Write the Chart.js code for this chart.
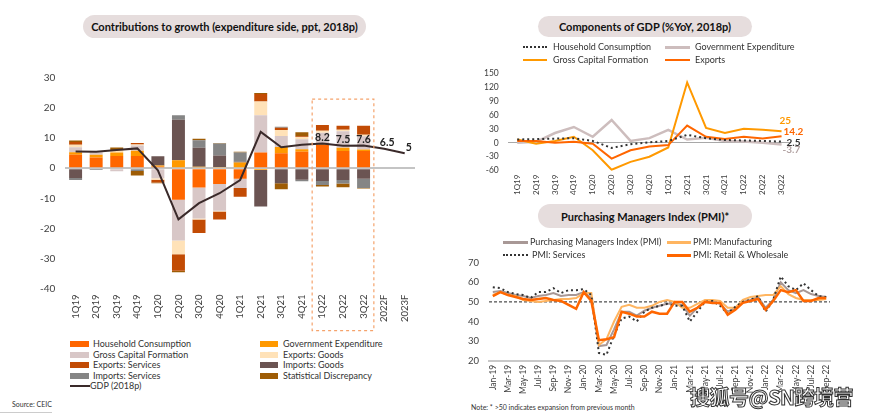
<!DOCTYPE html>
<html>
<head>
<meta charset="utf-8">
<script src="https://cdn.jsdelivr.net/npm/chart.js@4.4.1/dist/chart.umd.min.js"></script>
<style>
body{margin:0;width:870px;height:415px;background:#fff;position:relative;overflow:hidden;font-family:Lato,"Open Sans",sans-serif;color:#222}
.pill{position:absolute;background:#e6dddd;border-radius:12px;font-weight:bold;font-size:11px;display:flex;align-items:center;justify-content:center;color:#111}
canvas{position:absolute}
.lg{position:absolute;font-size:9px;color:#333;white-space:nowrap;line-height:11px}
.sw{position:absolute}
.note{position:absolute;font-size:7px;color:#333}
.wm{position:absolute;left:690px;top:382px;font-family:"Noto Sans CJK SC",sans-serif;font-weight:bold;font-size:20px;color:#fff;-webkit-text-stroke:1px #333;letter-spacing:-0.5px}
</style>
</head>
<body>
<div class="pill" style="left:83px;top:15px;width:283px;height:23px">Contributions to growth (expenditure side, ppt, 2018p)</div>
<div class="pill" style="left:538px;top:16px;width:214px;height:21px">Components of GDP (%YoY, 2018p)</div>
<div class="pill" style="left:538px;top:204px;width:214px;height:24px">Purchasing Managers Index (PMI)*</div>

<canvas id="contrib" width="430" height="275" style="left:0;top:62px"></canvas>
<canvas id="gdpComp" width="420" height="140" style="left:440px;top:59px"></canvas>
<canvas id="pmi" width="420" height="151" style="left:440px;top:247px"></canvas>

<div id="legends"></div>
<div class="note" style="left:12px;top:400px">Source: CEIC</div>
<div style="position:absolute;left:0;top:412px;width:52px;height:1px;background:#ccc"></div>
<div class="note" style="left:471px;top:403px">Note: * &gt;50 indicates expansion from previous month</div>
<div class="wm">搜狐号@SN跨境营销</div>

<script>
// ---- contributions to growth (ppt) ----
const quarters = ['1Q19','2Q19','3Q19','4Q19','1Q20','2Q20','3Q20','4Q20','1Q21','2Q21','3Q21','4Q21','1Q22','2Q22','3Q22','2022F','2023F'];
const household   = [4.5, 3.6, 4.1, 4.1, 0.5, -10.5, -6.4, -5.2, -3.5, 5.2, 5.0, 5.5, 7.8, 5.7, 5.7, null, null];
const govExp      = [0.8, 0.9, 1.1, 1.7, 0.4, 2.7, 0.5, 0.4, 1.9, -0.6, 2.1, 0.8, 0.4, 1.1, 0.5, null, null];
const grossCap    = [1.7, 0.8, -1.0, 1.8, -3.3, -13.5, -10.3, -8.9, -3.1, 12.4, 3.6, 3.3, 3.6, 5.5, 4.4, null, null];
const expGoods    = [0.8, 0.3, 0.8, 0.3, -0.5, -4.6, -0.3, -0.3, 0, 4.6, 2.0, 0.8, 0.7, 0.5, 0.5, null, null];
const expServices = [0.9, 0, 0.1, 0.5, -0.9, -5.5, -4.5, -2.6, -2.9, 2.5, 0.8, 0.2, 1.9, 1.3, 3.0, null, null];
const impGoods    = [-3.2, 0, 0, 0, 3.1, 13.4, 6.3, 3.8, 0.3, -12.1, -5.0, -3.8, -4.2, -3.9, -3.5, null, null];
const impServices = [-0.7, -0.6, 0, -0.9, 0, 1.5, 2.5, 4.0, 3.0, 0, 0.3, -0.5, -1.4, -1.2, -3.1, null, null];
const statDisc    = [0.5, 0.1, 0.8, -1.5, -0.3, -0.5, 0.5, 0.2, 0.3, 0.3, -2.0, 1.4, -0.5, -1.2, -0.1, null, null];
const gdp         = [5.6, 5.5, 6.1, 6.6, -0.7, -17.0, -11.6, -8.3, -3.9, 12.1, 7.0, 7.8, 8.2, 7.5, 7.6, 6.5, 5];
const gdpLabelled = ['1Q22','2Q22','3Q22','2022F','2023F'];

// ---- components of GDP (%YoY) ----
const compQuarters = quarters.slice(0, 15);
const hhYoY  = [7, 8, 9, 10, 4, -11, -3, 1, 4, 17, 10, 6, 5, 4, 2.5];
const govYoY = [0, 2, 21, 34, 13, 49, 4, 10, 28, 7, 11, 4, 3, 0, -3.7];
const gcfYoY = [7, -2, 4, 13, -16, -58, -41, -30, -10, 130, 32, 21, 30, 28, 25];
const expYoY = [4, 4, 0, 2, -2, -34, -16, -8, -5, 37, 13, 8, 13, 9, 14.2];

// ---- PMI ----
const months = ['Jan-19','Feb-19','Mar-19','Apr-19','May-19','Jun-19','Jul-19','Aug-19','Sep-19','Oct-19','Nov-19','Dec-19',
  'Jan-20','Feb-20','Mar-20','Apr-20','May-20','Jun-20','Jul-20','Aug-20','Sep-20','Oct-20','Nov-20','Dec-20',
  'Jan-21','Feb-21','Mar-21','Apr-21','May-21','Jun-21','Jul-21','Aug-21','Sep-21','Oct-21','Nov-21','Dec-21',
  'Jan-22','Feb-22','Mar-22','Apr-22','May-22','Jun-22','Jul-22','Aug-22','Sep-22'];
const pmiAll = [55, 55.5, 54.5, 53.5, 53, 52, 53, 53.5, 54.5, 53, 53.5, 53.5,
  55, 52, 27.5, 28, 36, 45, 45, 43, 45.5, 47, 48, 49,
  49, 48.5, 43, 47, 50, 50.5, 49, 45, 47, 50, 51, 52.5,
  47, 51, 60, 56, 54.5, 56, 54, 53, 52.5];
const pmiManuf = [53.5, 55, 53.5, 53, 51, 50.5, 50, 50.5, 51, 51.5, 51.5, 52,
  54.5, 54.5, 28, 31, 40, 47.5, 48.5, 47, 47, 48, 50, 51,
  50, 47, 47, 49, 51, 51, 50.5, 47, 47, 51, 52.5, 53,
  53.5, 53.5, 58, 54, 52, 51, 51, 51, 51.5];
const pmiServ = [57.5, 57, 55, 54, 53.5, 52, 55, 55, 57, 54.5, 56, 56,
  56.5, 53.5, 24, 23, 33, 41.5, 42.5, 40, 45, 47, 48, 49,
  48, 48, 40, 45, 50, 50.5, 48, 44, 47.5, 50, 51, 53,
  45, 51, 63, 58, 56, 59.5, 56, 53, 52.5];
const pmiRetail = [53, 55, 53.5, 52.5, 51.5, 51, 51.5, 52, 51, 50.5, 48.5, 46.5,
  55, 50.5, 30.5, 31, 32, 45, 44, 42.5, 42.5, 45, 44, 44,
  50, 50, 45, 47, 50, 49.5, 49.5, 43.5, 46, 49.5, 50.5, 51.5,
  46, 50.5, 56, 55, 56, 50.5, 50.5, 52, 52];
const pmiThreshold = 50;

Chart.defaults.font.family = 'Lato, "Open Sans", sans-serif';
Chart.defaults.color = '#404040';
Chart.defaults.animation = false;

const C = {
  household: '#ff6600', gov: '#ff9900', gcf: '#d8c7c7', expG: '#ffe2b8', expS: '#c24b04',
  impG: '#6b5452', impS: '#858585', stat: '#9e5c05', gdp: '#3a2a2a',
  hhLine: '#333333', govLine: '#cdbdbd', pmi: '#a89896', manuf: '#ffb560'
};

// ---------- legends ----------
function legend(items) {
  const root = document.getElementById('legends');
  items.forEach(it => {
    const sw = document.createElement('div');
    sw.className = 'sw';
    sw.style.left = it.x + 'px';
    sw.style.width = it.w + 'px';
    if (it.kind === 'box') {
      sw.style.top = (it.y - 3) + 'px'; sw.style.height = '6px'; sw.style.background = it.color;
    } else if (it.kind === 'dot') {
      sw.style.top = (it.y - 1) + 'px'; sw.style.height = '0'; sw.style.borderTop = '2px dotted ' + it.color;
    } else {
      sw.style.top = (it.y - 1) + 'px'; sw.style.height = (it.lw || 2) + 'px'; sw.style.background = it.color;
    }
    root.appendChild(sw);
    const t = document.createElement('div');
    t.className = 'lg';
    t.style.left = (it.x + it.w + it.gap) + 'px';
    t.style.top = (it.y - 6) + 'px';
    t.textContent = it.text;
    root.appendChild(t);
  });
}
legend([
  {x:70, y:344, w:19, gap:4, kind:'box', color:C.household, text:'Household Consumption'},
  {x:260, y:344, w:18, gap:5, kind:'box', color:C.gov, text:'Government Expenditure'},
  {x:70, y:354.5, w:19, gap:4, kind:'box', color:C.gcf, text:'Gross Capital Formation'},
  {x:260, y:354.5, w:18, gap:5, kind:'box', color:C.expG, text:'Exports: Goods'},
  {x:70, y:365, w:19, gap:4, kind:'box', color:C.expS, text:'Exports: Services'},
  {x:260, y:365, w:18, gap:5, kind:'box', color:C.impG, text:'Imports: Goods'},
  {x:70, y:375.5, w:19, gap:4, kind:'box', color:C.impS, text:'Imports: Services'},
  {x:260, y:375.5, w:18, gap:5, kind:'box', color:C.stat, text:'Statistical Discrepancy'},
  {x:70, y:386, w:20, gap:0, kind:'line', color:C.gdp, text:'GDP (2018p)'},
  {x:523, y:46.5, w:24, gap:6, kind:'dot', color:C.hhLine, text:'Household Consumption'},
  {x:665, y:46.5, w:25, gap:5, kind:'line', lw:3, color:C.govLine, text:'Government Expenditure'},
  {x:523, y:59.5, w:24, gap:6, kind:'line', color:C.gov, text:'Gross Capital Formation'},
  {x:665, y:59.5, w:25, gap:5, kind:'line', color:C.household, text:'Exports'},
  {x:503, y:242, w:25, gap:2, kind:'line', lw:3, color:C.pmi, text:'Purchasing Managers Index (PMI)'},
  {x:667, y:242, w:24, gap:2, kind:'line', lw:3, color:C.manuf, text:'PMI: Manufacturing'},
  {x:503, y:255, w:25, gap:4, kind:'dot', color:C.hhLine, text:'PMI: Services'},
  {x:667, y:255, w:24, gap:2, kind:'line', lw:3, color:C.household, text:'PMI: Retail & Wholesale'}
]);

// ---------- chart 1: contributions ----------
const boxPlugin = {
  id: 'boxPlugin',
  afterDraw(chart) {
    const {ctx, scales: {x, y}} = chart;
    const i0 = quarters.indexOf('1Q22'), i1 = quarters.indexOf('3Q22');
    const left = (x.getPixelForValue(i0 - 1) + x.getPixelForValue(i0)) / 2;
    const right = (x.getPixelForValue(i1) + x.getPixelForValue(i1 + 1)) / 2;
    const top = y.getPixelForValue(23);
    const bottom = chart.chartArea.bottom + 42;
    ctx.save();
    ctx.setLineDash([3, 3]);
    ctx.strokeStyle = '#f5a36c';
    ctx.lineWidth = 1.2;
    ctx.strokeRect(left, top, right - left, bottom - top);
    ctx.setLineDash([]);
    const meta = chart.getDatasetMeta(chart.data.datasets.findIndex(d => d.type === 'line'));
    ctx.font = 'bold 10.5px Lato, sans-serif';
    ctx.fillStyle = '#222';
    ctx.textAlign = 'center';
    ctx.textBaseline = 'middle';
    const dxs = [0, 0, 0, 3, 4];
    gdpLabelled.forEach((q, k) => {
      const i = quarters.indexOf(q);
      const p = meta.data[i];
      ctx.fillText(String(gdp[i]), p.x + dxs[k], p.y - 6);
    });
    ctx.restore();
  }
};

function barSet(label, data, color) {
  return {type: 'bar', label, data, backgroundColor: color, order: 1, barPercentage: 0.63, categoryPercentage: 1, stack: 'c'};
}
new Chart(document.getElementById('contrib'), {
  data: {
    labels: quarters,
    datasets: [
      {type: 'line', label: 'GDP (2018p)', data: gdp, borderColor: C.gdp, borderWidth: 2, pointRadius: 0, order: 0, stack: 'gdp', tension: 0},
      barSet('Household Consumption', household, C.household),
      barSet('Government Expenditure', govExp, C.gov),
      barSet('Gross Capital Formation', grossCap, C.gcf),
      barSet('Exports: Goods', expGoods, C.expG),
      barSet('Exports: Services', expServices, C.expS),
      barSet('Imports: Goods', impGoods, C.impG),
      barSet('Imports: Services', impServices, C.impS),
      barSet('Statistical Discrepancy', statDisc, C.stat)
    ]
  },
  options: {
    responsive: false,
    layout: {padding: {left: 30, right: 15, top: 4, bottom: 9}},
    plugins: {legend: {display: false}, tooltip: {enabled: false}},
    scales: {
      x: {stacked: true, grid: {display: false, drawTicks: false}, border: {display: false},
          ticks: {maxRotation: 90, minRotation: 90, font: {size: 9.5}, padding: 6}},
      y: {stacked: true, min: -40, max: 30, border: {display: false},
          ticks: {stepSize: 10, font: {size: 10}, padding: 10, autoSkip: false},
          grid: {drawTicks: false, color: c => c.tick.value === 0 ? '#c4c4c4' : 'transparent', lineWidth: 2}}
    }
  },
  plugins: [boxPlugin]
});

// ---------- chart 2: components of GDP ----------
const endLabels = {
  id: 'endLabels',
  afterDatasetsDraw(chart) {
    const {ctx} = chart;
    ctx.save();
    ctx.font = 'bold 10px Lato, sans-serif';
    ctx.textBaseline = 'middle';
    ctx.textAlign = 'left';
    chart.data.datasets.forEach((ds, i) => {
      const pts = chart.getDatasetMeta(i).data;
      const p = pts[pts.length - 1];
      ctx.fillStyle = ds.endColor;
      ctx.fillText(String(ds.data[ds.data.length - 1]), p.x + ds.endDx, p.y + ds.endDy);
    });
    ctx.restore();
  }
};
new Chart(document.getElementById('gdpComp'), {
  type: 'line',
  data: {
    labels: compQuarters,
    datasets: [
      {label: 'Household Consumption', data: hhYoY, borderColor: C.hhLine, borderWidth: 2, borderDash: [2, 3], order: 0, endColor: '#333', endDx: 5, endDy: 1},
      {label: 'Government Expenditure', data: govYoY, borderColor: C.govLine, borderWidth: 2.5, order: 3, endColor: '#b3a3a3', endDx: 1, endDy: 5.5},
      {label: 'Gross Capital Formation', data: gcfYoY, borderColor: C.gov, borderWidth: 2, order: 2, endColor: C.gov, endDx: -2, endDy: -10},
      {label: 'Exports', data: expYoY, borderColor: C.household, borderWidth: 2, order: 1, endColor: C.household, endDx: 2, endDy: -4}
    ]
  },
  options: {
    responsive: false,
    elements: {point: {radius: 0}, line: {tension: 0}},
    layout: {padding: {left: 35, right: 69, top: 4, bottom: 0}},
    plugins: {legend: {display: false}, tooltip: {enabled: false}},
    scales: {
      x: {offset: true, grid: {display: false, drawTicks: false}, border: {display: false},
          ticks: {maxRotation: 90, minRotation: 90, font: {size: 8}, padding: 4}},
      y: {min: -60, max: 150, border: {display: false},
          ticks: {stepSize: 30, font: {size: 8.5}, padding: 9, autoSkip: false},
          grid: {drawTicks: false, color: c => c.tick.value === 0 ? '#a8a8a8' : 'transparent', lineWidth: 1}}
    }
  },
  plugins: [endLabels]
});

// ---------- chart 3: PMI ----------
const thresholdLine = {
  id: 'thresholdLine',
  beforeDatasetsDraw(chart) {
    const {ctx, chartArea, scales: {y}} = chart;
    const yy = y.getPixelForValue(pmiThreshold);
    ctx.save();
    ctx.setLineDash([3, 2]);
    ctx.strokeStyle = '#222';
    ctx.lineWidth = 1;
    ctx.beginPath();
    ctx.moveTo(chartArea.left, yy);
    ctx.lineTo(chartArea.right, yy);
    ctx.stroke();
    ctx.restore();
  }
};
new Chart(document.getElementById('pmi'), {
  type: 'line',
  data: {
    labels: months,
    datasets: [
      {label: 'Purchasing Managers Index (PMI)', data: pmiAll, borderColor: C.pmi, borderWidth: 2, order: 3},
      {label: 'PMI: Manufacturing', data: pmiManuf, borderColor: C.manuf, borderWidth: 2, order: 2},
      {label: 'PMI: Services', data: pmiServ, borderColor: C.hhLine, borderWidth: 2, borderDash: [2, 3], order: 1},
      {label: 'PMI: Retail & Wholesale', data: pmiRetail, borderColor: C.household, borderWidth: 2.5, order: 0}
    ]
  },
  options: {
    responsive: false,
    elements: {point: {radius: 0}, line: {tension: 0}},
    layout: {padding: {left: 18, right: 30, top: 4, bottom: 0}},
    plugins: {legend: {display: false}, tooltip: {enabled: false}},
    scales: {
      x: {offset: true, grid: {display: false, drawTicks: false}, border: {display: true, color: '#c8c8c8', width: 2},
          ticks: {autoSkip: false, maxRotation: 90, minRotation: 90, font: {size: 8.5}, padding: 4,
                  callback: (v, i) => i % 2 === 0 ? months[i] : ''}},
      y: {min: 20, max: 70, border: {display: false},
          ticks: {stepSize: 10, font: {size: 9.5}, padding: 10, autoSkip: false},
          grid: {display: false, drawTicks: false}}
    }
  },
  plugins: [thresholdLine]
});
</script>
</body>
</html>
